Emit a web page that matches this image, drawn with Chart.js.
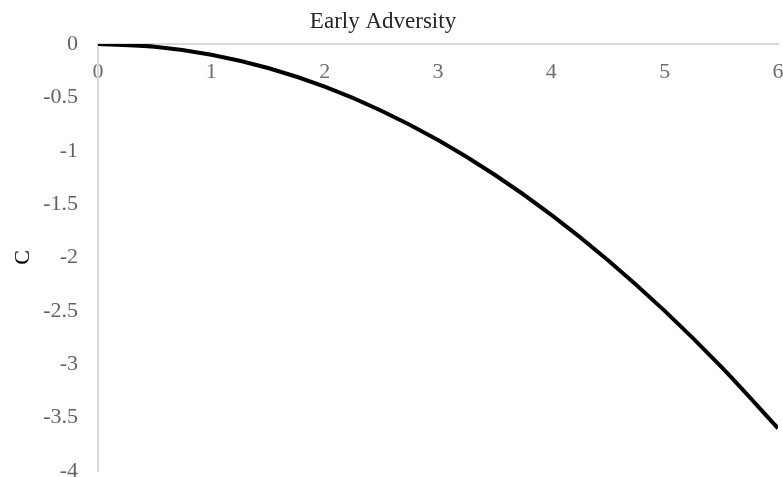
<!DOCTYPE html>
<html lang="en">
<head>
    <meta charset="UTF-8">
    <title>Early Adversity</title>
    <script src="https://cdn.jsdelivr.net/npm/chart.js"></script>
    <style>
        * { margin: 0; padding: 0; box-sizing: border-box; }
        body { background: #fff; }
        .wrap { width: 783px; height: 477px; }
    </style>
</head>
<body>
    <div class="wrap">
        <canvas id="chart" width="783" height="477"></canvas>
    </div>

    <script>
        // values
        const adversity = [0, 0.5, 1, 1.5, 2, 2.5, 3, 3.5, 4, 4.5, 5, 5.5, 6];
        const cValues = [0, -0.025, -0.1, -0.225, -0.4, -0.625, -0.9, -1.225, -1.6, -2.025, -2.5, -3.025, -3.6];
        const xTicks = [0, 1, 2, 3, 4, 5, 6];
        const yTicks = [0, -0.5, -1, -1.5, -2, -2.5, -3, -3.5, -4];

        const points = adversity.map((x, i) => ({ x: x, y: cValues[i] }));

        // title drawn by hand, a little left of the canvas centre like the original
        const topTitle = {
            id: 'topTitle',
            afterDraw(chart) {
                const ctx = chart.ctx;
                ctx.save();
                ctx.font = '23px "Liberation Serif"';
                ctx.fillStyle = '#262626';
                ctx.textAlign = 'center';
                ctx.textBaseline = 'middle';
                ctx.fillText('Early Adversity', 383, 22);
                ctx.restore();
            }
        };

        const tickFont = { family: 'Liberation Serif', size: 22 };

        new Chart(document.getElementById('chart'), {
            type: 'scatter',
            data: {
                datasets: [{
                    data: points,
                    showLine: true,
                    borderColor: '#000',
                    borderWidth: 4,
                    pointRadius: 0,
                    cubicInterpolationMode: 'monotone',
                    fill: false
                }]
            },
            options: {
                responsive: false,
                animation: false,
                layout: { padding: { top: 44, right: 5, bottom: 6, left: 10 } },
                plugins: { legend: { display: false }, tooltip: { enabled: false } },
                scales: {
                    x: {
                        type: 'linear',
                        position: { y: 0 },
                        min: 0,
                        max: 6,
                        afterBuildTicks: (s) => { s.ticks = xTicks.map(v => ({ value: v })); },
                        afterFit: (s) => {
                            s.height = 0;
                            s.paddingLeft = 0; s.paddingRight = 0;
                        },
                        grid: { display: false, drawTicks: false },
                        border: { color: '#d9d9d9', width: 2 },
                        ticks: { color: '#6e6e6e', padding: 15, font: tickFont }
                    },
                    y: {
                        min: -4,
                        max: 0,
                        afterBuildTicks: (s) => { s.ticks = yTicks.map(v => ({ value: v })); },
                        afterFit: (s) => {
                            s.width = 88;
                            s.paddingTop = 0; s.paddingBottom = 0;
                        },
                        grid: { display: false, drawTicks: false },
                        border: { color: '#d9d9d9', width: 2 },
                        ticks: {
                            color: '#636363', padding: 20, font: tickFont,
                            callback: (v) => String(v)
                        },
                        title: { display: true, text: 'C', color: '#000', padding: 0, font: { family: 'Liberation Serif', size: 22 } }
                    }
                }
            },
            plugins: [topTitle]
        });
    </script>
</body>
</html>
